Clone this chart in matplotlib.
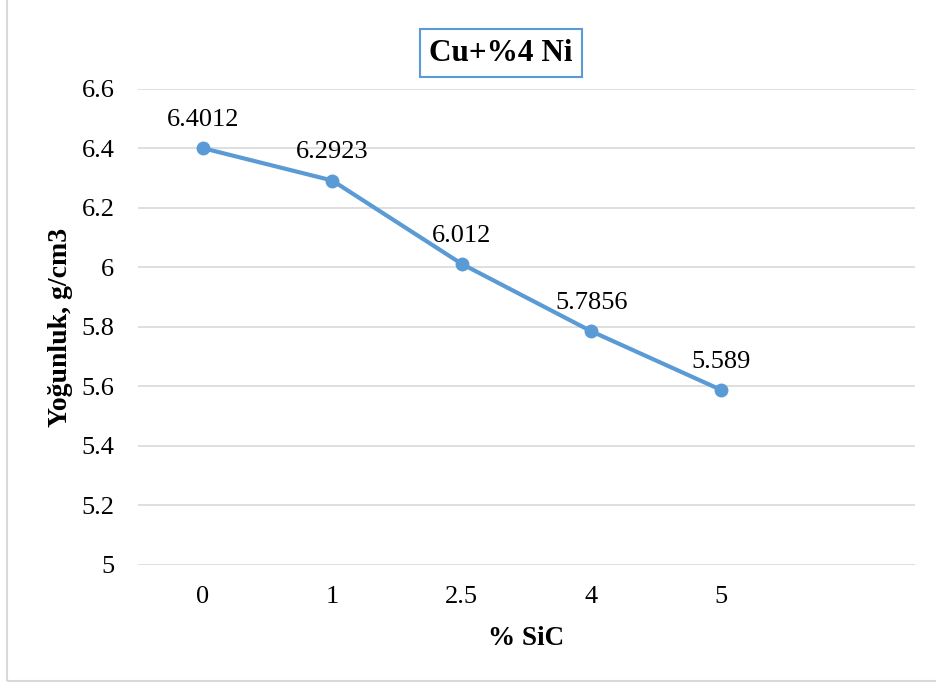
import matplotlib.pyplot as plt
from matplotlib.patches import Rectangle

# data
sic = ['0', '1', '2.5', '4', '5']
density = [6.4012, 6.2923, 6.012, 5.7856, 5.589]
labels = ['6.4012', '6.2923', '6.012', '5.7856', '5.589']
yticks = [5, 5.2, 5.4, 5.6, 5.8, 6, 6.2, 6.4, 6.6]

plt.rcParams['font.family'] = ['Liberation Serif', 'DejaVu Serif']

fig = plt.figure(figsize=(9.37, 6.86), dpi=100)
ax = fig.add_axes([0.1473, 0.1764, 0.8292, 0.6939])

x = list(range(len(sic)))
ax.plot(x, density, color='#5B9BD5', lw=3, marker='o', ms=9,
        markerfacecolor='#5B9BD5', markeredgecolor='#5B9BD5')
for xi, yi, t in zip(x, density, labels):
    ax.annotate(t, (xi, yi), xytext=(0, 16), textcoords='offset points',
                ha='center', va='baseline', fontsize=19)

ax.set_xlim(-0.5, 5.5)
ax.set_ylim(5, 6.6)
ax.set_xticks(x)
ax.set_xticklabels(sic, fontsize=19)
ax.set_yticks(yticks)
ax.set_yticklabels(['%g' % v for v in yticks], fontsize=19)
ax.tick_params(axis='y', length=0, pad=17)
ax.tick_params(axis='x', length=0, pad=15)
ax.grid(axis='y', color='#D9D9D9', lw=1.2)
ax.set_axisbelow(True)
for s in ax.spines.values():
    s.set_visible(False)

ax.set_xlabel('% SiC', fontsize=19.5, fontweight='bold', labelpad=13)
ax.set_ylabel('Yoğunluk, g/cm3', fontsize=20, fontweight='bold', labelpad=6)

fig.text(0.5343, 0.9227, 'Cu+%4 Ni', ha='center', va='center',
         fontsize=22.5, fontweight='bold',
         bbox=dict(boxstyle='square,pad=0.3', fc='white', ec='#5B9BD5', lw=1.5))

# outer chart frame
fig.patches.append(Rectangle((0.008, 0.008), 1.2, 1.2, transform=fig.transFigure,
                             fill=False, ec='#D9D9D9', lw=1.5))

fig.savefig('out.png', dpi=100)
